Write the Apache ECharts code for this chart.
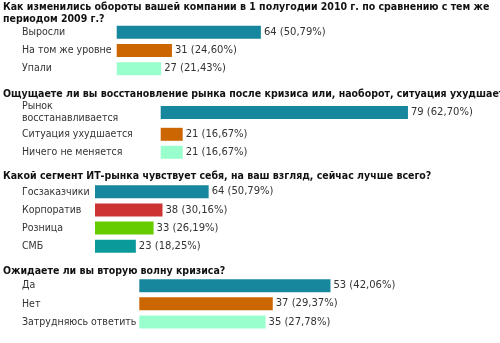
<!DOCTYPE html>
<html>
<head>
<meta charset="utf-8">
<script src="https://cdn.jsdelivr.net/npm/echarts@6/dist/echarts.min.js"></script>
<style>
  html, body { margin: 0; padding: 0; background: #ffffff; }
  #chart { width: 500px; height: 343px; }
</style>
</head>
<body>
<div id="chart"></div>
<script>
// Poll results: answer counts and shares of 126 respondents
const q1Title = 'Как изменились обороты вашей компании в 1 полугодии 2010 г. по сравнению с тем же\nпериодом 2009 г.?';
const q1Categories = ['Выросли', 'На том же уровне', 'Упали'];
const q1Counts = [64, 31, 27];
const q1Percents = [50.79, 24.60, 21.43];

const q2Title = 'Ощущаете ли вы восстановление рынка после кризиса или, наоборот, ситуация ухудшается?';
const q2Categories = ['Рынок\nвосстанавливается', 'Ситуация ухудшается', 'Ничего не меняется'];
const q2Counts = [79, 21, 21];
const q2Percents = [62.70, 16.67, 16.67];

const q3Title = 'Какой сегмент ИТ-рынка чувствует себя, на ваш взгляд, сейчас лучше всего?';
const q3Categories = ['Госзаказчики', 'Корпоратив', 'Розница', 'СМБ'];
const q3Counts = [64, 38, 33, 23];
const q3Percents = [50.79, 30.16, 26.19, 18.25];

const q4Title = 'Ожидаете ли вы вторую волну кризиса?';
const q4Categories = ['Да', 'Нет', 'Затрудняюсь ответить'];
const q4Counts = [53, 37, 35];
const q4Percents = [42.06, 29.37, 27.78];

// bar colours
const TEAL = '#17879e', ORANGE = '#cc6600', MINT = '#99ffcc', RED = '#cc3333', GREEN = '#66cc00', SEA = '#0a9a9a';
const q1Colors = [TEAL, ORANGE, MINT];
const q2Colors = [TEAL, ORANGE, MINT];
const q3Colors = [TEAL, RED, GREEN, SEA];
const q4Colors = [TEAL, ORANGE, MINT];

const FONT = 'DejaVu Sans, Verdana, sans-serif';
const FONT_NARROW = '"DejaVu Sans Condensed", "DejaVu Sans", sans-serif';
const LABEL_X = 22;

// one block per bar group; the second question is split so its two-line row can be taller
const blocks = [
  { cats: q1Categories, counts: q1Counts, pcts: q1Percents, colors: q1Colors, left: 116.7, top: 23,    rowH: 18.3,  min: 10.5,  pxPerUnit: 2.695 },
  { cats: q2Categories.slice(0, 1), counts: q2Counts.slice(0, 1), pcts: q2Percents.slice(0, 1), colors: q2Colors.slice(0, 1), left: 160.7, top: 103.5, rowH: 18, min: 15.34, pxPerUnit: 3.884 },
  { cats: q2Categories.slice(1), counts: q2Counts.slice(1), pcts: q2Percents.slice(1), colors: q2Colors.slice(1), left: 160.7, top: 125.3, rowH: 18, min: 15.34, pxPerUnit: 3.884 },
  { cats: q3Categories, counts: q3Counts, pcts: q3Percents, colors: q3Colors, left: 95,    top: 182.7, rowH: 18.15, min: 0,     pxPerUnit: 1.776 },
  { cats: q4Categories, counts: q4Counts, pcts: q4Percents, colors: q4Colors, left: 139.3, top: 276.7, rowH: 18.1,  min: 0,     pxPerUnit: 3.748 }
];
const AXIS_MAX = 100;

const titles = [
  { text: q1Title, top: 1.5 },
  { text: q2Title, top: 88 },
  { text: q3Title, top: 170.5 },
  { text: q4Title, top: 265.5 }
];

const fmtPct = p => p.toFixed(2).replace('.', ',');

const grid = [], xAxis = [], yAxis = [], series = [];
blocks.forEach((b, i) => {
  grid.push({
    left: b.left,
    top: b.top,
    width: (AXIS_MAX - b.min) * b.pxPerUnit,
    height: b.rowH * b.cats.length,
    containLabel: false
  });
  xAxis.push({
    type: 'value', gridIndex: i, min: b.min, max: AXIS_MAX,
    show: false, splitLine: { show: false }
  });
  yAxis.push({
    type: 'category', gridIndex: i, data: b.cats, inverse: true,
    axisLine: { show: false }, axisTick: { show: false }, splitLine: { show: false },
    axisLabel: {
      align: 'left', margin: b.left - LABEL_X,
      color: '#333333', fontFamily: FONT_NARROW, fontSize: 10.5, lineHeight: 12.5
    }
  });
  series.push({
    type: 'bar', xAxisIndex: i, yAxisIndex: i,
    barWidth: 13, clip: true,
    data: b.counts.map((v, k) => ({ value: v, itemStyle: { color: b.colors[k] } })),
    label: {
      show: true, position: 'right', distance: 3,
      color: '#333333', fontFamily: FONT, fontSize: 10,
      formatter: p => b.counts[p.dataIndex] + ' (' + fmtPct(b.pcts[p.dataIndex]) + '%)'
    }
  });
});

const chart = echarts.init(document.getElementById('chart'), null, { renderer: 'canvas' });
chart.setOption({
  animation: false,
  backgroundColor: '#ffffff',
  title: titles.map(t => ({
    text: t.text, left: 3, top: t.top, padding: 0,
    textStyle: { fontFamily: FONT_NARROW, fontSize: 10.5, fontWeight: 'bold', color: '#111111', lineHeight: 12 }
  })),
  grid, xAxis, yAxis, series
});
</script>
</body>
</html>
